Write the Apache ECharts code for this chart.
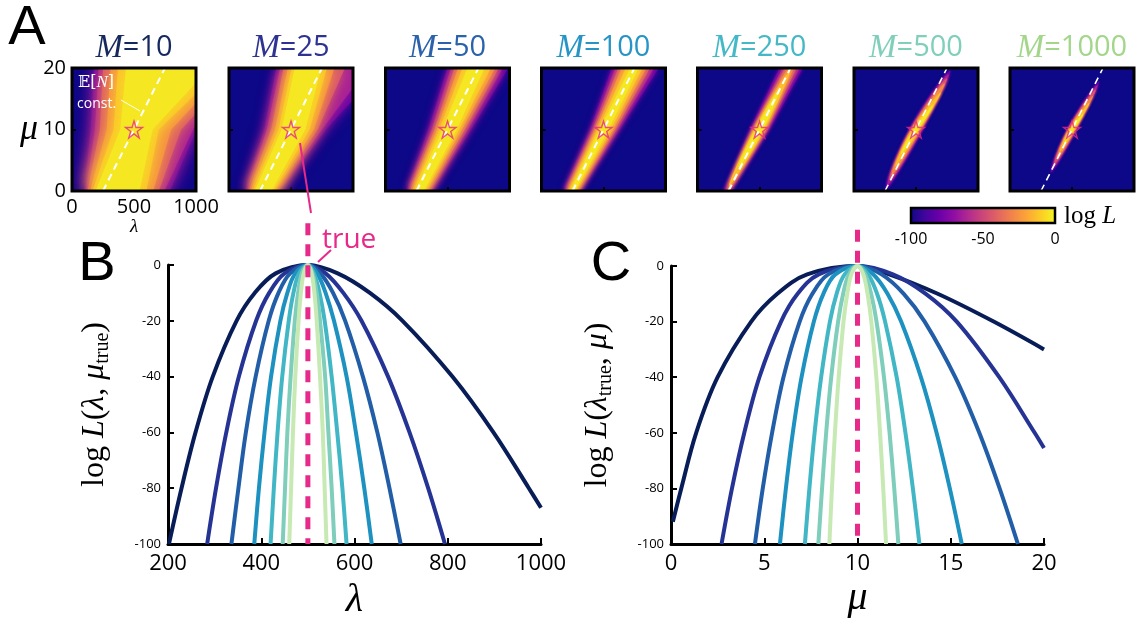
<!DOCTYPE html>
<html>
<head>
<meta charset="utf-8">
<script src="https://cdn.jsdelivr.net/npm/echarts@6.0.0/dist/echarts.min.js"></script>
<style>
html,body{margin:0;padding:0;background:#fff;}
#chart{width:1142px;height:619px;}
</style>
</head>
<body>
<div id="chart"></div>
<script>
// ================= DATA =================
const M_VALUES = [10, 25, 50, 100, 250, 500, 1000];
const TRUE_POINT = [500, 10];                 // (lambda_true, mu_true)
const CONST_EN_LINE = [[250, 0], [750, 20]];  // E[N] = const line in panel A
const LEVELS = [-90, -72, -54, -36, -20, -8]; // contour levels of log L (outer -> inner)

// contour polygons of log L in panel A, vertices as [lambda, mu], one polygon per level
const contM10 = [
  [[100,0],[150,10],[178,20],[1000,20],[1000,9.8],[790,0]],
  [[112,0],[185,10],[215,20],[1000,20],[1000,11],[745,0]],
  [[125,0],[225,10],[250,20],[1000,20],[1000,12.6],[880,10],[700,0]],
  [[145,0],[280,10],[310,20],[1000,20],[1000,14.3],[800,10],[655,0]],
  [[165,0],[335,10],[370,20],[1000,20],[1000,15.8],[700,10],[600,0]],
  [[190,0],[390,10],[435,20],[1000,20],[1000,17.6],[650,10],[545,0]]
];
const contM25 = [
  [[127,0],[285,10],[382,20],[1000,20],[1000,14.8],[780,10],[414,0]],
  [[143,0],[305,10],[412,20],[1000,20],[1000,16.8],[750,10],[398,0]],
  [[158,0],[340,10],[440,20],[935,20],[715,10],[385,0]],
  [[172,0],[372,10],[475,20],[850,20],[685,10],[372,0]],
  [[190,0],[400,10],[505,20],[790,20],[650,10],[360,0]],
  [[207,0],[425,10],[530,20],[745,20],[615,10],[342,0]]
];
const contM50 = [
  [[170,0],[345,10],[499,20],[990,20],[690,10],[378,0]],
  [[184,0],[372,10],[528,20],[945,20],[665,10],[365,0]],
  [[197,0],[395,10],[555,20],[915,20],[640,10],[350,0]],
  [[212,0],[415,10],[585,20],[885,20],[615,10],[335,0]],
  [[225,0],[435,10],[620,20],[850,20],[595,10],[322,0]],
  [[240,0],[458,10],[662,20],[798,20],[575,10],[308,0]]
];
const contM100 = [
  [[176,0],[392,10],[567,20],[946,20],[630,10],[316,0]],
  [[190,0],[410,10],[595,20],[908,20],[612,10],[304,0]],
  [[202,0],[425,10],[620,20],[875,20],[595,10],[294,0]],
  [[212,0],[440,10],[645,20],[845,20],[578,10],[285,0]],
  [[222,0],[455,10],[680,20],[815,20],[560,10],[278,0]],
  [[232,0],[470,10],[716,20],[784,20],[540,10],[270,0]]
];
const contM250 = [
  [[212,0],[423,10],[660,20],[850,20],[580,10],[270,0]],
  [[222,0],[437,10],[685,20],[825,20],[567,10],[262,0]],
  [[230,0],[448,10],[705,20],[800,20],[555,10],[255,0]],
  [[238,0],[456,10],[728,20],[778,20],[545,10],[250,0]],
  [[255,0.8],[460,10],[745,19.5],[536,10]],
  [[330,3.8],[472,10],[660,16.5],[527,10]]
];
const contM500 = [
  [[258,0.3],[448,10],[776,19.6],[554,10]],
  [[272,1.0],[453,10],[762,19],[548,10]],
  [[288,1.8],[458,10],[748,18.3],[542,10]],
  [[305,2.6],[464,10],[730,17.5],[535,10]],
  [[335,4.0],[472,10],[700,16],[526,10]],
  [[380,6.0],[481,10],[640,14],[518,10]]
];
const contM1000 = [
  [[330,3.0],[462,10],[718,17.8],[538,10]],
  [[345,3.7],[466,10],[705,17.2],[534,10]],
  [[360,4.4],[469,10],[690,16.5],[530,10]],
  [[380,5.3],[474,10],[668,15.5],[525,10]],
  [[405,6.4],[480,10],[640,14.3],[519,10]],
  [[440,7.8],[486,10],[590,12.5],[513,10]]
];
const CONTOURS = [contM10, contM25, contM50, contM100, contM250, contM500, contM1000];

// panel B: log L(lambda, mu_true), points [lambda, logL]
const bM10   = [[202,-100],[229,-80],[259,-60],[296,-40],[347,-20],[386,-10],[431,-3],[500,0],[564,-3],[633,-10],[703,-20],[810,-40],[898,-60],[974,-80],[1000,-87]];
const bM25   = [[284,-100],[303,-80],[325,-60],[352,-40],[389,-20],[417,-10],[450,-3],[500,0],[538,-3],[576,-10],[615,-20],[672,-40],[718,-60],[758,-80],[794,-100]];
const bM50   = [[336,-100],[351,-80],[367,-60],[388,-40],[416,-20],[437,-10],[462,-3],[500,0],[527,-3],[554,-10],[580,-20],[618,-40],[649,-60],[675,-80],[699,-100]];
const bM100  = [[385,-100],[395,-80],[407,-60],[421,-40],[441,-20],[456,-10],[473,-3],[500,0],[520,-3],[538,-10],[556,-20],[583,-40],[603,-60],[621,-80],[637,-100]];
const bM250  = [[420,-100],[427,-80],[435,-60],[445,-40],[459,-20],[469,-10],[481,-3],[500,0],[513,-3],[525,-10],[536,-20],[551,-40],[563,-60],[574,-80],[583,-100]];
const bM500  = [[446,-100],[451,-80],[456,-60],[463,-40],[472,-20],[479,-10],[487,-3],[500,0],[510,-3],[519,-10],[526,-20],[537,-40],[544,-60],[551,-80],[557,-100]];
const bM1000 = [[460,-100],[464,-80],[468,-60],[473,-40],[480,-20],[485,-10],[491,-3],[500,0],[508,-3],[514,-10],[519,-20],[526,-40],[532,-60],[536,-80],[540,-100]];
const CURVES_B = [bM10, bM25, bM50, bM100, bM250, bM500, bM1000];

// panel C: log L(lambda_true, mu), points [mu, logL]
const cM10   = [[0.1,-92],[0.55,-80],[1.35,-60],[2.5,-40],[4.3,-20],[5.7,-10],[7.3,-3],[10,0],[11.7,-3],[14.3,-10],[17.3,-20],[20,-30]];
const cM25   = [[2.71,-100],[3.27,-80],[3.93,-60],[4.74,-40],[5.9,-20],[6.79,-10],[7.92,-3],[10,0],[11.9,-3],[13.66,-10],[15.32,-20],[17.6,-40],[19.5,-60],[20,-65.5]];
const cM50   = [[4.5,-100],[4.92,-80],[5.42,-60],[6.03,-40],[6.9,-20],[7.58,-10],[8.43,-3],[10,0],[11.29,-3],[12.48,-10],[13.6,-20],[15.24,-40],[16.53,-60],[17.62,-80],[18.6,-100]];
const cM100  = [[5.84,-100],[6.16,-80],[6.53,-60],[7.0,-40],[7.66,-20],[8.17,-10],[8.81,-3],[10,0],[10.84,-3],[11.61,-10],[12.34,-20],[13.4,-40],[14.24,-60],[14.95,-80],[15.59,-100]];
const cM250  = [[7.18,-100],[7.42,-80],[7.7,-60],[8.05,-40],[8.52,-20],[8.88,-10],[9.31,-3],[10,0],[10.57,-3],[11.05,-10],[11.48,-20],[12.1,-40],[12.57,-60],[12.97,-80],[13.32,-100]];
const cM500  = [[7.9,-100],[8.1,-80],[8.32,-60],[8.59,-40],[8.96,-20],[9.23,-10],[9.54,-3],[10,0],[10.41,-3],[10.73,-10],[11.02,-20],[11.42,-40],[11.72,-60],[11.97,-80],[12.19,-100]];
const cM1000 = [[8.49,-100],[8.63,-80],[8.79,-60],[8.99,-40],[9.25,-20],[9.45,-10],[9.67,-3],[10,0],[10.31,-3],[10.54,-10],[10.74,-20],[11.01,-40],[11.21,-60],[11.38,-80],[11.53,-100]];
const CURVES_C = [cM10, cM25, cM50, cM100, cM250, cM500, cM1000];

// axis ticks
const HM_LAMBDA_TICKS = [0, 500, 1000];
const HM_MU_TICKS = [0, 10, 20];
const B_X_TICKS = [200, 400, 600, 800, 1000];
const C_X_TICKS = [0, 5, 10, 15, 20];
const LOGL_TICKS = [-100, -80, -60, -40, -20, 0];
const CBAR_TICKS = [-100, -50, 0];
const TRUE_LINE_TOP = 15; // pink dashed marker extends a little above 0

// ================= STYLE =================
const SANS = "'Open Sans', 'Liberation Sans', sans-serif";
const SERIF = "'Liberation Serif', 'DejaVu Serif', serif";
const PINK = '#e7298a';
const CURVE_COLORS = ['#081d58','#253494','#225ea8','#1d91c0','#41b6c4','#7fcdbb','#c7e9b4'];
const TITLE_COLORS = ['#15295e','#2e3292','#2a62ab','#2695c6','#44b8c6','#7fcfbb','#a3d68b'];
const PLASMA = ['#0d0887','#41049d','#6a00a8','#8f0da4','#b12a90','#cc4778','#e16462','#f2844b','#fca636','#fcce25','#f0f921'];
const HM_LEFT = [72, 229, 385.5, 541.5, 697.5, 854, 1010];
const HM_TOP = 68, HM_W = 124, HM_H = 123;
const BLUR = [18, 13, 9, 6, 4, 3, 2.5];
const STAR = 'path://M50 0L61.2 34.5L97.6 34.5L68.2 55.9L79.4 90.5L50 69.1L20.6 90.5L31.8 55.9L2.4 34.5L38.8 34.5Z';
const plainNum = v => String(v);

function hex2rgb(h){return [1,3,5].map(i=>parseInt(h.substr(i,2),16));}
function plasmaAt(v){ // v in [-100,0]
  const t = Math.max(0, Math.min(1, (v + 100) / 100)) * (PLASMA.length - 1);
  const i = Math.min(PLASMA.length - 2, Math.floor(t)), f = t - i;
  const a = hex2rgb(PLASMA[i]), b = hex2rgb(PLASMA[i+1]);
  return 'rgb(' + a.map((x,j)=>Math.round(x + (b[j]-x)*f)).join(',') + ')';
}
function bandColor(k){
  const hi = k + 1 < LEVELS.length ? LEVELS[k+1] : 0;
  return plasmaAt((LEVELS[k] + hi) / 2);
}

// ================= LAYOUT =================
const grids = [], xAxes = [], yAxes = [], series = [];
const axisTickStyle = {show:true, inside:true, length:4, lineStyle:{color:'#000', width:2}};

HM_LEFT.forEach((l, p) => {
  grids.push({left:l, top:HM_TOP, width:HM_W, height:HM_H, show:true, backgroundColor:plasmaAt(-100), borderWidth:0, outerBoundsMode:'none'});
  xAxes.push({type:'value', gridIndex:p, min:HM_LAMBDA_TICKS[0], max:HM_LAMBDA_TICKS[2], interval:HM_LAMBDA_TICKS[1]-HM_LAMBDA_TICKS[0],
    axisLine:{show:false, onZero:false}, axisTick:axisTickStyle, splitLine:{show:false},
    axisLabel:{show:p===0, color:'#000', fontFamily:SANS, fontSize:20, margin:6, formatter:plainNum},
    name:p===0?'λ':'', nameLocation:'middle', nameGap:24,
    nameTextStyle:{fontFamily:SERIF, fontStyle:'italic', fontSize:19, color:'#000'}});
  yAxes.push({type:'value', gridIndex:p, min:HM_MU_TICKS[0], max:HM_MU_TICKS[2], interval:HM_MU_TICKS[1]-HM_MU_TICKS[0],
    axisLine:{show:false, onZero:false}, axisTick:axisTickStyle, splitLine:{show:false},
    axisLabel:{show:p===0, color:'#000', fontFamily:SANS, fontSize:20, margin:6, formatter:plainNum},
    name:p===0?'μ':'', nameLocation:'middle', nameRotate:0, nameGap:34,
    nameTextStyle:{fontFamily:SERIF, fontStyle:'italic', fontSize:36, color:'#000'}});
  const polys = CONTOURS[p];
  series.push({type:'custom', xAxisIndex:p, yAxisIndex:p, clip:true, z:1, silent:true,
    data: polys.map(poly => poly[0]),
    renderItem(params, api){
      const k = params.dataIndex;
      const pts = polys[k].map(v => api.coord(v));
      const c = bandColor(k);
      return {type:'polygon', shape:{points:pts, smooth: pts.length === 4 ? 0.45 : 0},
        style:{fill:c, stroke:null, shadowBlur:BLUR[p], shadowColor:c}};
    }});
  series.push({type:'line', xAxisIndex:p, yAxisIndex:p, data:CONST_EN_LINE, symbol:'none', z:3, silent:true,
    lineStyle:{color:'#fff', width: p >= 5 ? 1.6 : 2, type:[7,5]}});
  series.push({type:'scatter', xAxisIndex:p, yAxisIndex:p, data:[TRUE_POINT], symbol:STAR, symbolSize:17, z:4, silent:true,
    itemStyle:{color:'rgba(0,0,0,0)', borderColor:PINK, borderWidth:1.4}});
  series.push({type:'custom', xAxisIndex:p, yAxisIndex:p, clip:false, z:6, silent:true, data:[[HM_LAMBDA_TICKS[0], HM_MU_TICKS[0]]],
    renderItem(params, api){
      const a = api.coord([HM_LAMBDA_TICKS[0], HM_MU_TICKS[2]]), b = api.coord([HM_LAMBDA_TICKS[2], HM_MU_TICKS[0]]);
      return {type:'rect', shape:{x:a[0], y:a[1], width:b[0]-a[0], height:b[1]-a[1]}, style:{fill:null, stroke:'#000', lineWidth:3}};
    }});
});

// panel B (index 7) and C (index 8)
const logLRich = () => ({
  n:{fontFamily:SERIF, fontSize:32, color:'#000', lineHeight:42},
  i:{fontFamily:SERIF, fontStyle:'italic', fontSize:32, color:'#000', lineHeight:42},
  s:{fontFamily:SERIF, fontSize:20, color:'#000', padding:[16,0,0,0], lineHeight:42}
});
grids.push({left:168, top:265, width:373, height:279, outerBoundsMode:'none'});
grids.push({left:671, top:266, width:373, height:278, outerBoundsMode:'none'});
const lineAxis = {axisLine:{show:true, onZero:false, lineStyle:{color:'#000', width:3}}, axisTick:{show:true, inside:true, length:6, lineStyle:{color:'#000', width:2}}, splitLine:{show:false}};
xAxes.push(Object.assign({type:'value', gridIndex:7, min:B_X_TICKS[0], max:B_X_TICKS[B_X_TICKS.length-1], interval:B_X_TICKS[1]-B_X_TICKS[0],
  axisLabel:{color:'#000', fontFamily:SANS, fontSize:22, margin:9, formatter:plainNum},
  name:'λ', nameLocation:'middle', nameGap:36, nameTextStyle:{fontFamily:SERIF, fontStyle:'italic', fontSize:40, color:'#000'}}, lineAxis));
yAxes.push(Object.assign({type:'value', gridIndex:7, min:LOGL_TICKS[0], max:LOGL_TICKS[LOGL_TICKS.length-1], interval:LOGL_TICKS[1]-LOGL_TICKS[0],
  axisLabel:{color:'#000', fontFamily:SANS, fontSize:13, margin:7},
  name:'{n|log }{i|L}{n|(}{i|λ}{n|, }{i|μ}{s|true}{n|)}', nameLocation:'middle', nameRotate:90, nameGap:52,
  nameTextStyle:{rich:logLRich()}}, lineAxis));
xAxes.push(Object.assign({type:'value', gridIndex:8, min:C_X_TICKS[0], max:C_X_TICKS[C_X_TICKS.length-1], interval:C_X_TICKS[1]-C_X_TICKS[0],
  axisLabel:{color:'#000', fontFamily:SANS, fontSize:22, margin:9, formatter:plainNum},
  name:'μ', nameLocation:'middle', nameGap:34, nameTextStyle:{fontFamily:SERIF, fontStyle:'italic', fontSize:40, color:'#000'}}, lineAxis));
yAxes.push(Object.assign({type:'value', gridIndex:8, min:LOGL_TICKS[0], max:LOGL_TICKS[LOGL_TICKS.length-1], interval:LOGL_TICKS[1]-LOGL_TICKS[0],
  axisLabel:{color:'#000', fontFamily:SANS, fontSize:13, margin:7},
  name:'{n|log }{i|L}{n|(}{i|λ}{s|true}{n|, }{i|μ}{n|)}', nameLocation:'middle', nameRotate:90, nameGap:52,
  nameTextStyle:{rich:logLRich()}}, lineAxis));

M_VALUES.forEach((m, i) => {
  series.push({type:'line', name:'M='+m, xAxisIndex:7, yAxisIndex:7, data:CURVES_B[i], smooth:0.35, symbol:'none', z:2+i*0.1, silent:true,
    lineStyle:{color:CURVE_COLORS[i], width:4}});
  series.push({type:'line', name:'M='+m, xAxisIndex:8, yAxisIndex:8, data:CURVES_C[i], smooth:0.35, symbol:'none', z:2+i*0.1, silent:true,
    lineStyle:{color:CURVE_COLORS[i], width:4}});
});
series.push({type:'line', xAxisIndex:7, yAxisIndex:7, data:[[TRUE_POINT[0], TRUE_LINE_TOP],[TRUE_POINT[0], LOGL_TICKS[0]]], symbol:'none', clip:false, z:5, silent:true,
  lineStyle:{color:PINK, width:5, type:[12,9]}});
series.push({type:'line', xAxisIndex:8, yAxisIndex:8, data:[[TRUE_POINT[1], TRUE_LINE_TOP-2],[TRUE_POINT[1], LOGL_TICKS[0]+3]], symbol:'none', clip:false, z:5, silent:true,
  lineStyle:{color:PINK, width:5, type:[12,9]}});

// colorbar (index 9)
grids.push({left:911, top:208, width:144, height:15, outerBoundsMode:'none'});
xAxes.push({type:'value', gridIndex:9, min:CBAR_TICKS[0], max:CBAR_TICKS[2], interval:CBAR_TICKS[1]-CBAR_TICKS[0],
  axisLine:{show:false}, axisTick:{show:false}, splitLine:{show:false},
  axisLabel:{color:'#000', fontFamily:SANS, fontSize:16, margin:8}});
yAxes.push({type:'value', gridIndex:9, min:0, max:1, show:false});
series.push({type:'custom', xAxisIndex:9, yAxisIndex:9, clip:false, silent:true, data:[[CBAR_TICKS[0], 0]],
  renderItem(params, api){
    const a = api.coord([CBAR_TICKS[0], 1]), b = api.coord([CBAR_TICKS[2], 0]);
    return {type:'rect', shape:{x:a[0], y:a[1], width:b[0]-a[0], height:b[1]-a[1]},
      style:{fill:new echarts.graphic.LinearGradient(0,0,1,0, PLASMA.map((c,j)=>({offset:j/(PLASMA.length-1), color:c}))), stroke:'#000', lineWidth:2.5}};
  }});

// ================= TEXT / ANNOTATIONS =================
const graphic = [];
const G = o => Object.assign({silent:true, z:100, zlevel:0}, o);
const letter = (t, x, y) => G({type:'text', x, y, style:{text:t, fontFamily:"'Liberation Sans', sans-serif", fontSize:56, fill:'#000', align:'center', verticalAlign:'middle'}});
graphic.push(letter('A', 27, 29), letter('B', 97, 265), letter('C', 611, 265));
M_VALUES.forEach((m, p) => {
  graphic.push(G({type:'text', x:HM_LEFT[p] + HM_W/2, y:48, style:{
    text:'{m|M}{n|=' + m + '}', align:'center', verticalAlign:'middle',
    rich:{m:{fontFamily:SERIF, fontStyle:'italic', fontSize:33, fill:TITLE_COLORS[p]}, n:{fontFamily:SANS, fontSize:29, fill:TITLE_COLORS[p]}}}}));
});
graphic.push(G({type:'text', x:78, y:83, style:{text:'{b|𝔼[}{i|N}{b|]}', align:'left', verticalAlign:'middle',
  rich:{b:{fontFamily:"'DejaVu Serif', serif", fontSize:16, fill:'#fff'}, i:{fontFamily:SERIF, fontStyle:'italic', fontSize:17, fill:'#fff'}}}}));
graphic.push(G({type:'text', x:77, y:104, style:{text:'const.', fontFamily:SANS, fontSize:14, fill:'#fff', align:'left', verticalAlign:'middle'}}));
graphic.push(G({type:'line', shape:{x1:121, y1:100, x2:140, y2:111}, style:{stroke:'#fff', lineWidth:1}}));
graphic.push(G({type:'line', shape:{x1:300, y1:143, x2:311, y2:213}, style:{stroke:PINK, lineWidth:2}}));
graphic.push(G({type:'text', x:322, y:240, style:{text:'true', fontFamily:SANS, fontSize:28, fill:PINK, align:'left', verticalAlign:'middle'}}));
graphic.push(G({type:'line', shape:{x1:318, y1:262, x2:331, y2:250}, style:{stroke:PINK, lineWidth:2}}));
graphic.push(G({type:'text', x:1064, y:216, style:{text:'{n|log }{i|L}', align:'left', verticalAlign:'middle',
  rich:{n:{fontFamily:SERIF, fontSize:25, fill:'#000'}, i:{fontFamily:SERIF, fontStyle:'italic', fontSize:25, fill:'#000'}}}}));

const chart = echarts.init(document.getElementById('chart'), null, {renderer:'canvas', width:1142, height:619});
chart.setOption({animation:false, backgroundColor:'#fff', grid:grids, xAxis:xAxes, yAxis:yAxes, series, graphic});
</script>
</body>
</html>
